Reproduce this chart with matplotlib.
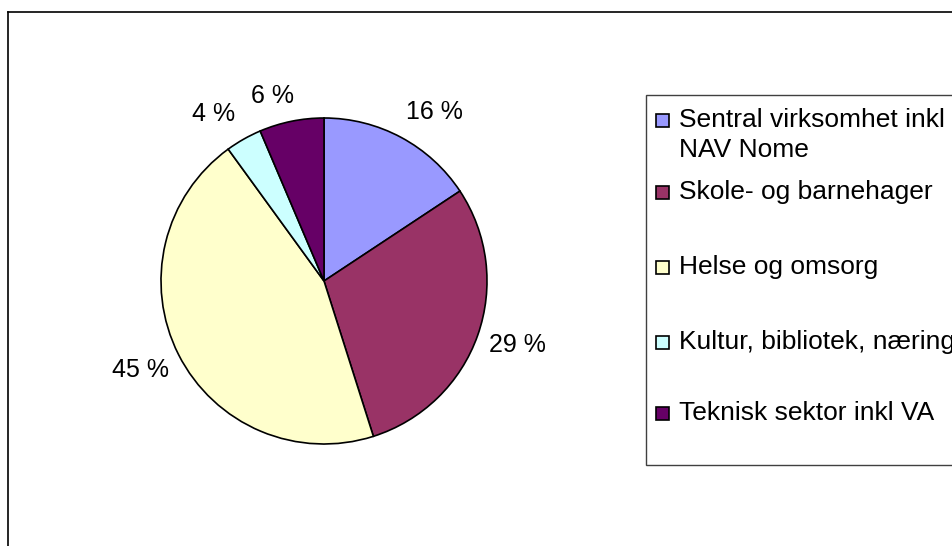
import matplotlib
matplotlib.use("Agg")
import numpy as np
import matplotlib.pyplot as plt
from matplotlib.patches import Rectangle
from matplotlib.lines import Line2D

plt.rcParams["font.family"] = ["Liberation Sans", "DejaVu Sans"]

categories = [
    "Sentral virksomhet inkl\nNAV Nome",
    "Skole- og barnehager",
    "Helse og omsorg",
    "Kultur, bibliotek, næring",
    "Teknisk sektor inkl VA",
]
shares = [15.7, 29.4, 44.9, 3.6, 6.4]
colors = ["#9999FF", "#993366", "#FFFFCC", "#CCFFFF", "#660066"]

# label placement tweaks (radius in pie units, angle nudge in degrees)
label_dist = [1.24, 1.25, 1.25, 1.23, 1.18]
label_nudge = [-5, 1, -1, 4, 4]

W, H = 953, 546
fig = plt.figure(figsize=(W / 100, H / 100), dpi=100)


def px(x, y):
    # pixel coords from top-left -> figure fraction
    return x / W, 1 - y / H


# outer chart frame (runs off right and bottom edges)
fig.add_artist(Line2D([8 / W, 1.01], [1 - 12 / H] * 2, color="black", lw=1.2))
fig.add_artist(Line2D([8 / W] * 2, [1 - 12 / H, -0.01], color="black", lw=1.2))

# pie
cx, cy, r = 324, 281, 163
ax = fig.add_axes([(cx - r) / W, (H - cy - r) / H, 2 * r / W, 2 * r / H])
wedges, texts = ax.pie(
    shares,
    colors=colors,
    startangle=90,
    counterclock=False,
    wedgeprops=dict(edgecolor="black", linewidth=1.2),
)
total = sum(shares)
for w, v, d, n in zip(wedges, shares, label_dist, label_nudge):
    ang = np.deg2rad((w.theta1 + w.theta2) / 2 + n)
    ax.text(d * np.cos(ang), d * np.sin(ang), f"{100 * v / total:.0f} %",
            ha="center", va="center", fontsize=18)
ax.set_xlim(-1, 1)
ax.set_ylim(-1, 1)
ax.set_aspect("equal")

# legend box
bx0, by0, bx1, by1 = 646, 95, 960, 465
fig.add_artist(Rectangle(px(bx0, by1), (bx1 - bx0) / W, (by1 - by0) / H,
                         transform=fig.transFigure, facecolor="white",
                         edgecolor="#404040", lw=1.0, clip_on=False))
row_y = [120, 192, 267, 342, 413]
for lab, col, y in zip(categories, colors, row_y):
    fig.add_artist(Rectangle(px(656, y + 7), 13 / W, 13 / H,
                             transform=fig.transFigure, facecolor=col,
                             edgecolor="black", lw=1.2))
    fig.text(*px(679, y - 12), lab, fontsize=19, va="top", ha="left",
             linespacing=1.3)

fig.savefig("out.png", dpi=100)
